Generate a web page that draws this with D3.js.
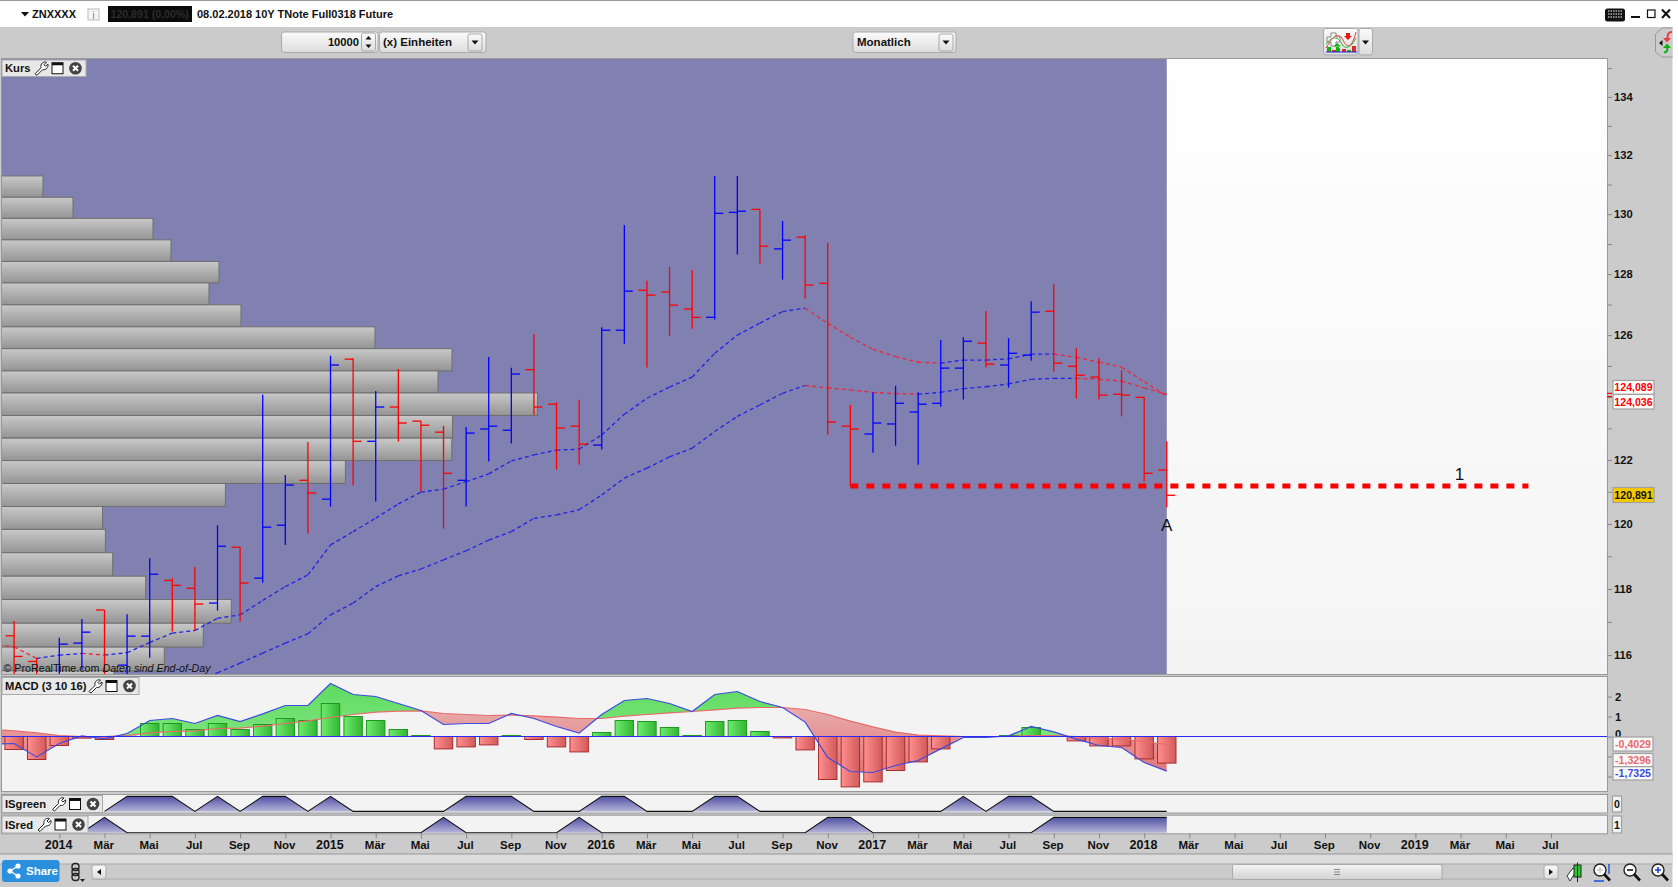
<!DOCTYPE html>
<html>
<head>
<meta charset="utf-8">
<title>ZNXXXX</title>
<style>
  html, body { margin: 0; padding: 0; background: #fff; overflow: hidden; }
  svg { display: block; font-family: "Liberation Sans", Arial, sans-serif; }
  text { fill: #111; }
  .bold { font-weight: bold; font-size: 11.2px; }
</style>
</head>
<body>
<div id="chart"></div>
<script src="https://cdn.jsdelivr.net/npm/d3@7"></script>
<script>
// monthly bars, index 0 = Jan 2014, first bar is Nov 2013
const barStart = -2;
const highs  = [117.03,115.91,116.52,117.09,117.36,117.23,118.94,118.33,118.67,119.96,119.28,124.07,121.53,122.57,125.33,125.25,124.19,124.90,123.24,123.08,123.04,125.29,124.94,126.04,123.83,123.91,126.26,129.64,127.78,128.24,128.14,131.29,131.29,130.16,129.77,129.29,129.04,123.75,124.15,124.36,124.15,125.84,125.93,126.79,125.90,127.11,127.68,125.57,125.25,124.86,123.99,122.59];
const lows   = [115.26,115.00,115.00,115.56,115.00,115.00,115.92,116.71,116.74,117.34,117.01,118.19,119.35,119.70,120.54,121.20,120.70,122.58,120.99,119.85,120.54,121.95,122.52,123.43,121.70,121.85,122.33,125.72,124.95,125.98,126.21,126.51,128.65,128.35,127.82,127.20,122.80,121.18,122.23,122.45,121.85,123.69,123.92,124.95,124.30,125.17,124.82,123.95,123.92,123.38,121.32,120.51];
const opens  = [116.58,115.81,115.10,116.36,117.36,115.70,116.57,118.26,118.02,117.57,119.28,118.33,119.96,121.36,120.77,125.22,122.59,123.68,123.23,122.88,121.36,122.98,122.94,124.88,123.77,123.07,122.47,126.16,127.47,127.41,126.85,126.58,130.06,130.16,128.84,129.23,127.70,123.07,122.82,123.14,123.52,123.80,124.93,125.74,125.03,125.35,126.78,124.99,124.64,124.09,123.99,121.68];
const closes = [115.96,115.26,116.33,116.69,115.10,116.57,118.45,118.11,117.54,119.31,118.18,119.90,121.21,120.96,125.03,122.59,123.68,123.17,123.10,121.58,122.85,123.07,124.74,123.68,123.01,122.50,126.16,127.44,127.31,126.98,126.58,130.03,130.10,128.93,129.13,127.64,123.20,122.98,123.17,123.80,123.77,124.93,125.80,125.06,125.41,126.75,125.09,124.70,124.06,124.06,121.58,120.891];

// dashed averages
const upperStart = -3;
const upperMA = [116.31,116.25,115.90,116.00,116.05,116.00,116.07,116.38,116.66,116.74,117.11,117.21,117.65,118.07,118.43,119.35,119.76,120.18,120.62,120.99,121.08,121.32,121.56,121.97,122.16,122.31,122.34,122.79,123.45,123.96,124.32,124.64,125.41,126.00,126.39,126.77,126.88,126.39,125.93,125.54,125.30,125.12,125.09,125.19,125.19,125.23,125.38,125.38,125.28,125.12,124.96,124.49,124.036];
const lowerStart = 5;
const lowerMA = [115.15,115.30,115.47,115.76,116.06,116.36,116.64,117.21,117.57,118.07,118.40,118.61,118.89,119.17,119.50,119.76,120.17,120.28,120.44,120.90,121.43,121.74,122.10,122.37,122.90,123.38,123.75,124.12,124.37,124.29,124.23,124.15,124.11,124.09,124.15,124.27,124.33,124.42,124.57,124.60,124.60,124.57,124.51,124.29,124.089];

// volume by price, bin edges from the top and the bar length of every bin
const profileEdges = [131.29,130.57,129.86,129.14,128.42,127.71,126.99,126.27,125.56,124.84,124.13,123.41,122.69,121.98,121.26,120.54,119.83,119.11,118.39,117.68,116.96,116.24,115.53,114.81];
const profileVolume = [41,71,151,169,217,207,239,373,450,436,535.5,450.5,449.8,343.4,223.4,100.5,103.4,110.7,143.7,229.3,201.3,162.3,112];

// MACD (3 10 16)
const macdStart = -3;
const macdLine   = [-0.38,-0.35,-1.02,-0.35,0.03,-0.12,0.15,0.80,0.90,0.65,1.05,0.75,1.13,1.55,1.55,2.65,2.10,2.00,1.65,1.30,0.60,0.65,0.65,1.15,0.90,0.50,0.17,1.10,1.80,1.90,1.65,1.25,2.10,2.25,1.75,1.45,0.72,-1.05,-1.75,-1.80,-1.45,-1.20,-0.62,-0.05,-0.05,0.03,0.50,0.23,-0.13,-0.45,-0.55,-1.30,-1.7325];
const signalLine = [0.35,0.28,0.18,0.05,0.00,0.00,0.05,0.18,0.25,0.28,0.40,0.42,0.52,0.65,0.78,0.95,1.10,1.22,1.27,1.28,1.15,1.10,1.05,1.07,1.03,0.97,0.90,0.90,1.02,1.10,1.18,1.25,1.33,1.42,1.45,1.45,1.35,1.10,0.77,0.48,0.22,0.07,0.03,0.00,0.00,0.00,0.05,0.05,0.00,-0.10,-0.13,-0.25,-0.4029];
const histStart = -2;
const histBars   = [-0.65,-1.15,-0.45,-0.08,-0.15,0.02,0.65,0.65,0.35,0.65,0.35,0.60,0.90,0.80,1.65,1.00,0.80,0.35,0.05,-0.62,-0.52,-0.42,0.05,-0.15,-0.52,-0.77,0.20,0.80,0.75,0.45,0.05,0.75,0.80,0.25,-0.07,-0.67,-2.15,-2.52,-2.27,-1.70,-1.27,-0.62,0.00,0.00,0.05,0.45,0.00,-0.22,-0.47,-0.47,-1.12,-1.3296];

// indicator panels, start at Mar 2014 / Feb 2014
const greenStart = 2;
const isGreen = [0,1,1,1,0,1,0,1,1,0,1,0,0,0,0,0,1,1,1,0,0,0,1,1,0,0,0,1,1,0,0,0,0,0,0,0,0,0,1,0,1,1,0,0,0,0,0,0];
const redStart = 1;
const isRed = [0,1,0,0,0,0,0,0,0,0,0,0,0,0,0,0,1,0,0,0,0,0,1,0,0,0,0,0,0,0,0,0,0,1,1,0,0,0,0,0,0,0,0,1,1,1,1,1,1];

// axis labels, one every second month from Jan 2014
const timeTicks = [0,2,4,6,8,10,12,14,16,18,20,22,24,26,28,30,32,34,36,38,40,42,44,46,48,50,52,54,56,58,60,62,64,66];
const timeLabels = ['2014','Mär','Mai','Jul','Sep','Nov','2015','Mär','Mai','Jul','Sep','Nov','2016','Mär','Mai','Jul','Sep','Nov','2017','Mär','Mai','Jul','Sep','Nov','2018','Mär','Mai','Jul','Sep','Nov','2019','Mär','Mai','Jul'];
const priceTicks = [116,117,118,119,120,121,122,123,124,125,126,127,128,129,130,131,132,133,134,135];
// 124 sits behind the value boxes, so it carries no label
const priceLabels = [116,118,120,122,126,128,130,132,134];
const macdTicks = [2,1,0,-1,-2];

const supportLevel = 121.18, supportFrom = 35, supportTo = 65;
const lastIdx = 49;

const W = 1678, H = 887;
const panelL = 2, panelR = 1607;

const svg = d3.select('#chart').append('svg').attr('width', W).attr('height', H);
const defs = svg.append('defs');

function vGrad(id, stops, units) {
  const g = defs.append('linearGradient').attr('id', id).attr('x1', 0).attr('x2', 0).attr('y1', 0).attr('y2', 1);
  if (units) g.attr('gradientUnits', 'userSpaceOnUse').attr('y1', units[0]).attr('y2', units[1]);
  stops.forEach((c, i) => g.append('stop').attr('offset', i / (stops.length - 1)).attr('stop-color', c));
}
function hGrad(id, stops) {
  const g = defs.append('linearGradient').attr('id', id).attr('x1', 0).attr('x2', 1).attr('y1', 0).attr('y2', 0);
  stops.forEach((c, i) => g.append('stop').attr('offset', i / (stops.length - 1)).attr('stop-color', c));
}
vGrad('rowGrad', ['#c9c9c9', '#949494']);
vGrad('whiteGrad', ['#ffffff', '#f4f4f4']);
hGrad('barGreen', ['#6fec6f', '#33b533']);
hGrad('barRed', ['#ff8f8f', '#d25a5a']);
vGrad('areaRed', ['#e8aaaa', '#e07070'], [710, 780]);
vGrad('areaGreen', ['#5fdc5f', '#80e480'], [685, 740]);
vGrad('isFill', ['#5050a4', '#b4b4d8']);
vGrad('btn', ['#fbfbfb', '#dcdcdc']);
vGrad('thumb', ['#f4f4f4', '#d2d2d2']);

// window background
svg.append('rect').attr('width', W).attr('height', H).attr('fill', '#fff');
svg.append('rect').attr('x', 0).attr('y', 27).attr('width', 1672.5).attr('height', H - 27).attr('fill', '#cbcbcb');
svg.append('rect').attr('x', 0).attr('y', 0).attr('width', W).attr('height', 1).attr('fill', '#999');

// scales
const x = d3.scaleLinear().domain([0, 66]).range([59.3, 1551]);
const y = d3.scaleLog().domain([116, 134]).range([655.1, 96.9]);
const yM = d3.scaleLinear().domain([0, 2]).range([736.5, 696.5]);
const yG = d3.scaleLinear().domain([0, 1]).range([811.4, 796.4]);
const yR = d3.scaleLinear().domain([0, 1]).range([832.7, 817.4]);
const volX = d3.scaleLinear().domain([0, 535.5]).range([panelL, panelL + 535.5]);

// price panel
const priceTop = 59, priceBottom = 674;
defs.append('clipPath').attr('id', 'priceClip').append('rect')
  .attr('x', panelL).attr('y', priceTop).attr('width', panelR - panelL).attr('height', priceBottom - priceTop);
svg.append('rect').attr('x', panelL).attr('y', priceTop).attr('width', panelR - panelL).attr('height', priceBottom - priceTop)
  .attr('fill', 'url(#whiteGrad)');
svg.append('rect').attr('x', panelL).attr('y', priceTop).attr('width', x(lastIdx) - panelL).attr('height', priceBottom - priceTop)
  .attr('fill', '#8181b1');

const price = svg.append('g').attr('clip-path', 'url(#priceClip)');

// volume profile
price.selectAll('.row').data(profileVolume).join('rect')
  .attr('class', 'row')
  .attr('x', panelL - 2)
  .attr('y', (d, i) => y(profileEdges[i]))
  .attr('width', d => volX(d))
  .attr('height', (d, i) => y(profileEdges[i + 1]) - y(profileEdges[i]))
  .attr('fill', 'url(#rowGrad)')
  .attr('stroke', '#6f6f6f').attr('stroke-width', 1);

// averages, blue when rising and red when falling
function drawAverage(values, start) {
  const pairs = d3.pairs(values.map((v, i) => ({ i: i + start, v })));
  price.append('g').selectAll('line').data(pairs).join('line')
    .attr('x1', d => x(d[0].i)).attr('x2', d => x(d[1].i))
    .attr('y1', d => y(d[0].v)).attr('y2', d => y(d[1].v))
    .attr('stroke', d => d[1].v >= d[0].v ? '#2222e6' : '#e82838')
    .attr('stroke-width', 1.3)
    .attr('stroke-dasharray', '4 3');
}
drawAverage(upperMA, upperStart);
drawAverage(lowerMA, lowerStart);

// OHLC bars
const bars = highs.map((h, i) => ({ i: i + barStart, h, l: lows[i], o: opens[i], c: closes[i] }));
const barG = price.append('g').selectAll('g').data(bars).join('g')
  .attr('stroke', d => d.c >= d.o ? '#0000ff' : '#ff0000')
  .attr('stroke-width', 1.3);
barG.append('line').attr('x1', d => x(d.i)).attr('x2', d => x(d.i)).attr('y1', d => y(d.h)).attr('y2', d => y(d.l));
barG.append('line').attr('x1', d => x(d.i) - 8.5).attr('x2', d => x(d.i)).attr('y1', d => y(d.o)).attr('y2', d => y(d.o));
barG.append('line').attr('x1', d => x(d.i)).attr('x2', d => x(d.i) + 8.5).attr('y1', d => y(d.c)).attr('y2', d => y(d.c));

// support line and the wave labels
price.append('line')
  .attr('x1', x(supportFrom)).attr('x2', x(supportTo))
  .attr('y1', y(supportLevel)).attr('y2', y(supportLevel))
  .attr('stroke', '#ff0000').attr('stroke-width', 5).attr('stroke-dasharray', '8 8');
price.append('text').attr('x', x(61.95)).attr('y', y(supportLevel) - 6).attr('text-anchor', 'middle').style('font-size', '17px').text('1');
price.append('text').attr('x', x(lastIdx)).attr('y', y(supportLevel) + 45).attr('text-anchor', 'middle').style('font-size', '17px').text('A');

const stamp = price.append('text').attr('x', 3.5).attr('y', 672).style('font-size', '10.7px');
stamp.append('tspan').text('© ProRealTime.com  ');
stamp.append('tspan').style('font-style', 'italic').text('Daten sind End-of-Day');

svg.append('rect').attr('x', panelL - 0.5).attr('y', priceTop - 0.5).attr('width', panelR - panelL + 1).attr('height', priceBottom - priceTop + 1)
  .attr('fill', 'none').attr('stroke', '#999');

// price axis
const priceAxis = svg.append('g').attr('transform', `translate(${panelR},0)`)
  .call(d3.axisRight(y).tickValues(priceTicks).tickSize(5).tickPadding(2)
    .tickFormat(d => priceLabels.includes(d) ? d : ''));
priceAxis.select('.domain').remove();
priceAxis.selectAll('line').attr('stroke', '#888');
priceAxis.selectAll('text').attr('class', 'bold');

// MACD panel
const macdTop = 677, macdBottom = 791;
defs.append('clipPath').attr('id', 'macdClip').append('rect')
  .attr('x', panelL).attr('y', macdTop).attr('width', panelR - panelL).attr('height', macdBottom - macdTop);
svg.append('rect').attr('x', panelL - 0.5).attr('y', macdTop - 0.5).attr('width', panelR - panelL + 1).attr('height', macdBottom - macdTop + 1)
  .attr('fill', '#f3f3f3').attr('stroke', '#999');
const macd = svg.append('g').attr('clip-path', 'url(#macdClip)');

const macdPts = macdLine.map((v, i) => ({ i: i + macdStart, m: v, s: signalLine[i] }));
const clipArea = (id, edge) => defs.append('clipPath').attr('id', id).append('path').attr('d',
  d3.area().x(d => x(d.i)).y0(edge).y1(d => yM(d.m))(macdPts));
clipArea('macdAbove', macdTop - 5);
clipArea('macdBelow', macdBottom + 5);
// difference chart: each fill is cut by the macd line
macd.append('path').attr('clip-path', 'url(#macdAbove)').attr('fill', 'url(#areaRed)')
  .attr('d', d3.area().x(d => x(d.i)).y0(macdBottom + 5).y1(d => yM(d.s))(macdPts));
macd.append('path').attr('clip-path', 'url(#macdBelow)').attr('fill', 'url(#areaGreen)')
  .attr('d', d3.area().x(d => x(d.i)).y0(macdTop - 5).y1(d => yM(d.s))(macdPts));

const histW = 18.4;
macd.selectAll('.hist').data(histBars).join('rect')
  .attr('class', 'hist')
  .attr('x', (d, i) => x(i + histStart) - histW / 2)
  .attr('width', histW)
  .attr('y', d => d >= 0 ? yM(d) : yM(0))
  .attr('height', d => Math.abs(yM(d) - yM(0)))
  .attr('fill', d => d >= 0 ? 'url(#barGreen)' : 'url(#barRed)')
  .attr('stroke', d => d >= 0 ? '#1d9a1d' : '#a82c2c')
  .attr('stroke-width', 1);

const mLine = key => d3.line().x(d => x(d.i)).y(d => yM(d[key]));
macd.append('path').attr('d', mLine('s')(macdPts)).attr('fill', 'none').attr('stroke', '#e86a6a').attr('stroke-width', 1.1);
macd.append('path').attr('d', mLine('m')(macdPts)).attr('fill', 'none').attr('stroke', '#3c4be0').attr('stroke-width', 1.2);
macd.append('line').attr('x1', panelL).attr('x2', panelR).attr('y1', yM(0)).attr('y2', yM(0)).attr('stroke', '#2a2af0').attr('stroke-width', 1.2);

const macdAxis = svg.append('g').attr('transform', `translate(${panelR},0)`)
  .call(d3.axisRight(yM).tickValues(macdTicks).tickSize(5).tickPadding(3)
    .tickFormat(d => d >= 0 ? d : ''));
macdAxis.select('.domain').remove();
macdAxis.selectAll('line').attr('stroke', '#888');
macdAxis.selectAll('text').attr('class', 'bold').attr('dy', d => d === 0 ? '0.1em' : '0.32em');

// ISgreen / ISred panels
function isPanel(values, start, scale, top, bottom, clipId) {
  defs.append('clipPath').attr('id', clipId).append('rect')
    .attr('x', panelL).attr('y', top).attr('width', panelR - panelL).attr('height', bottom - top);
  svg.append('rect').attr('x', panelL - 0.5).attr('y', top - 0.5).attr('width', panelR - panelL + 1).attr('height', bottom - top + 1)
    .attr('fill', '#f3f3f3').attr('stroke', '#999');
  const pts = values.map((v, i) => ({ i: i + start, v }));
  const g = svg.append('g').attr('clip-path', `url(#${clipId})`);
  g.append('path').attr('fill', 'url(#isFill)')
    .attr('d', d3.area().x(d => x(d.i)).y0(scale(0)).y1(d => scale(d.v))(pts));
  g.append('path').attr('fill', 'none').attr('stroke', '#111').attr('stroke-width', 1.1)
    .attr('d', d3.line().x(d => x(d.i)).y(d => scale(d.v))(pts));
}
isPanel(isGreen, greenStart, yG, 795, 812.5, 'greenClip');
isPanel(isRed, redStart, yR, 815.7, 833.3, 'redClip');

// time axis
const timeAxis = svg.append('g').attr('transform', 'translate(0,833.5)')
  .call(d3.axisBottom(x).tickValues(timeTicks).tickSize(5).tickPadding(2)
    .tickFormat((d, i) => timeLabels[i]));
timeAxis.select('.domain').remove();
timeAxis.selectAll('line').attr('stroke', '#888');
timeAxis.selectAll('text').attr('class', 'bold').attr('dx', -1.2).style('font-size', (d, i) => /^\d/.test(timeLabels[i]) ? '12.5px' : '11.5px');
svg.append('rect').attr('x', 0).attr('y', 854).attr('width', 1672.5).attr('height', 10).attr('fill', '#dcdcdc');
svg.append('line').attr('x1', 0).attr('x2', 1672.5).attr('y1', 854).attr('y2', 854).attr('stroke', '#999');
svg.append('line').attr('x1', 0).attr('x2', 1672.5).attr('y1', 864).attr('y2', 864).attr('stroke', '#aaa');
svg.append('line').attr('x1', 92).attr('x2', 1559).attr('y1', 879).attr('y2', 879).attr('stroke', '#aaa');

// value boxes on the right
function valueBox(bx, by, bw, bh, label, fill, color, stroke) {
  svg.append('rect').attr('x', bx).attr('y', by).attr('width', bw).attr('height', bh).attr('fill', fill).attr('stroke', stroke || '#a0a0a0').attr('stroke-width', 1.2);
  svg.append('text').attr('class', 'bold').attr('x', bx + bw / 2).attr('y', by + bh / 2 + 4).attr('text-anchor', 'middle').style('font-size', '10.6px').style('fill', color).text(label);
}
const fmt = v => d3.format('.3f')(v).replace('.', ',');
const fmt4 = v => d3.format('.4f')(v).replace('.', ',').replace('−', '-');
svg.append('rect').attr('x', panelR).attr('y', y(lowerMA[lowerMA.length - 1]) - 1.5).attr('width', 5).attr('height', 1.2).attr('fill', '#f00');
svg.append('rect').attr('x', panelR).attr('y', y(upperMA[upperMA.length - 1])).attr('width', 5).attr('height', 1.2).attr('fill', '#f00');
valueBox(1613, 380.5, 41, 13.8, fmt(lowerMA[lowerMA.length - 1]), '#fff', '#f00');
valueBox(1613, 394.5, 41, 14.5, fmt(upperMA[upperMA.length - 1]), '#fff', '#f00');
valueBox(1613, 487.5, 41, 15, fmt(closes[closes.length - 1]), '#f6c800', '#111');
valueBox(1613, 737, 40, 14, fmt4(signalLine[signalLine.length - 1]), '#f8f8f8', '#e86a6a');
valueBox(1613, 753.5, 40, 13.2, fmt4(histBars[histBars.length - 1]), '#f8f8f8', '#e86a6a');
valueBox(1613, 766.7, 40, 13.3, fmt4(macdLine[macdLine.length - 1]), '#f8f8f8', '#3c4be0');
valueBox(1612.5, 796, 9, 16, isGreen[isGreen.length - 1], '#f3f3f3', '#111');
valueBox(1612.5, 816, 9, 17, isRed[isRed.length - 1], '#f3f3f3', '#111');

// panel tabs
function panelTab(tx, ty, w, h, label, iconX) {
  const g = svg.append('g');
  g.append('rect').attr('x', tx).attr('y', ty).attr('width', w).attr('height', h).attr('fill', '#e8e8e8').attr('stroke', '#aaa');
  g.append('text').attr('class', 'bold').attr('x', tx + 3).attr('y', ty + h / 2 + 4).text(label);
  const cy = ty + h / 2;
  // wrench
  g.append('path').attr('fill', '#fff').attr('stroke', '#222').attr('stroke-width', 1)
    .attr('d', `M${iconX} ${cy + 5.5} L${iconX + 6} ${cy - 0.5} C${iconX + 5} ${cy - 4.5} ${iconX + 8.5} ${cy - 7} ${iconX + 11.5} ${cy - 6} L${iconX + 9} ${cy - 3.5} L${iconX + 10.5} ${cy - 2} L${iconX + 13} ${cy - 4} C${iconX + 13.5} ${cy - 1} ${iconX + 11} ${cy + 2} ${iconX + 7.5} ${cy + 1.5} L${iconX + 2} ${cy + 7} Z`);
  // window
  g.append('rect').attr('x', iconX + 17).attr('y', cy - 5.5).attr('width', 11).attr('height', 11).attr('fill', '#fff').attr('stroke', '#111');
  g.append('rect').attr('x', iconX + 17).attr('y', cy - 5.5).attr('width', 11).attr('height', 2.5).attr('fill', '#111');
  // close
  g.append('circle').attr('cx', iconX + 40.5).attr('cy', cy).attr('r', 6.3).attr('fill', '#444');
  g.append('path').attr('stroke', '#fff').attr('stroke-width', 2).attr('d', `M${iconX + 38} ${cy - 2.5} L${iconX + 43} ${cy + 2.5} M${iconX + 43} ${cy - 2.5} L${iconX + 38} ${cy + 2.5}`);
}
panelTab(2, 60, 84, 16.5, 'Kurs', 35);
panelTab(2, 677.5, 137, 17, 'MACD (3 10 16)', 89);
panelTab(2, 795.5, 100.5, 17, 'ISgreen', 52.5);
panelTab(2, 816, 86, 17, 'ISred', 38);

// title bar
svg.append('path').attr('fill', '#111').attr('d', 'M21 12 L29 12 L25 16.5 Z');
svg.append('text').attr('class', 'bold').attr('x', 32).attr('y', 18).style('font-size', '11px').text('ZNXXXX');
svg.append('rect').attr('x', 88).attr('y', 9).attr('width', 11).attr('height', 11).attr('fill', '#f6f6f6').attr('stroke', '#bbb');
svg.append('text').attr('x', 93.5).attr('y', 18.5).attr('text-anchor', 'middle').style('font-size', '11px').style('fill', '#789').text('i');
svg.append('rect').attr('x', 108).attr('y', 6).attr('width', 84).attr('height', 16).attr('fill', '#0a0a0a');
svg.append('text').attr('class', 'bold').attr('x', 110.5).attr('y', 18).style('font-size', '10.6px').style('fill', '#2c2c2c').text('120,891 (0,00%)');
svg.append('text').attr('class', 'bold').attr('x', 197).attr('y', 18).style('font-size', '11px').text('08.02.2018 10Y TNote Full0318 Future');

// window buttons
svg.append('rect').attr('x', 1605).attr('y', 8.5).attr('width', 20).attr('height', 13).attr('rx', 2.5).attr('fill', '#111');
[11, 14, 17].forEach(ky => {
  svg.append('line').attr('x1', 1608).attr('x2', 1622).attr('y1', ky).attr('y2', ky).attr('stroke', '#fff').attr('stroke-dasharray', '1.5 1').attr('stroke-width', 1.2);
});
svg.append('rect').attr('x', 1631).attr('y', 16).attr('width', 9).attr('height', 2).attr('fill', '#111');
svg.append('rect').attr('x', 1647.5).attr('y', 10).attr('width', 7.5).attr('height', 7.5).attr('fill', 'none').attr('stroke', '#111').attr('stroke-width', 1.2);
svg.append('path').attr('stroke', '#111').attr('stroke-width', 2).attr('d', 'M1662 9.5 L1670 18 M1670 9.5 L1662 18');

// toolbar controls
function button(bx, by, bw, bh, r) {
  return svg.append('rect').attr('x', bx).attr('y', by).attr('width', bw).attr('height', bh).attr('rx', r || 2.5).attr('fill', 'url(#btn)').attr('stroke', '#aaa');
}
function arrowDown(cx, cy) {
  svg.append('path').attr('fill', '#111').attr('d', `M${cx - 3.5} ${cy - 2} L${cx + 3.5} ${cy - 2} L${cx} ${cy + 2} Z`);
}
button(281.5, 32, 96.5, 20.5);
svg.append('text').attr('class', 'bold').attr('x', 359).attr('y', 46).attr('text-anchor', 'end').text('10000');
button(361.5, 33, 14, 18, 2);
svg.append('path').attr('fill', '#111').attr('d', 'M368.5 36 L371.5 39.5 L365.5 39.5 Z M368.5 48 L371.5 44.5 L365.5 44.5 Z');
button(379.5, 32, 106.5, 20.5);
svg.append('text').attr('class', 'bold').attr('x', 383).attr('y', 46).style('font-size', '11.5px').text('(x) Einheiten');
button(468, 34, 14, 17, 2);
arrowDown(475, 42.5);
button(853, 32, 103, 20.5);
svg.append('text').attr('class', 'bold').attr('x', 857).attr('y', 46).style('font-size', '11.5px').text('Monatlich');
button(939, 34, 14, 17, 2);
arrowDown(946, 42.5);

// chart type button
button(1323.5, 28.5, 34.5, 26.5, 2.5);
button(1359, 28.5, 13.5, 26.5, 2.5);
arrowDown(1365.5, 42.5);
svg.append('path').attr('fill', '#fff').attr('stroke', '#888').attr('d', 'M1331 33 L1336 33 L1336 37 L1340 37 L1340 42 L1336 42 L1336 46 L1331 46 L1331 42 L1327 42 L1327 37 L1331 37 Z');
svg.append('path').attr('fill', 'none').attr('stroke', '#2ab02a').attr('stroke-width', 1).attr('d', 'M1326 44 C1332 36 1338 36 1342 44 C1345 50 1351 48 1356 38');
svg.append('path').attr('fill', 'none').attr('stroke', '#d84040').attr('stroke-width', 1).attr('d', 'M1326 48 C1332 38 1336 32 1342 38 C1347 50 1352 48 1356 32');
svg.append('path').attr('fill', '#e01818').attr('d', 'M1346 33 L1350 33 L1350 36 L1352 36 L1348 40 L1344 36 L1346 36 Z');
svg.append('path').attr('fill', '#10b010').attr('d', 'M1337 43 L1333.5 46.5 L1341 46.5 Z M1336 46 L1339 46 L1339 49 L1336 49 Z');
[[1327, 5], [1332, 2], [1336, 4], [1342, 3], [1347, 2], [1352, 6]].forEach((b, i) => {
  svg.append('rect').attr('x', b[0]).attr('y', 52 - b[1]).attr('width', 4).attr('height', b[1]).attr('fill', i % 2 ? '#e02828' : '#10b010');
});
svg.append('line').attr('x1', 1326).attr('x2', 1357).attr('y1', 52).attr('y2', 52).attr('stroke', '#2222e0');

// side arrows
svg.append('path').attr('fill', '#cbcbcb').attr('stroke', '#999').attr('d', 'M1672.5 28 L1662 28 L1655.5 34 L1655.5 52 L1662 57 L1672.5 57');
svg.append('path').attr('fill', '#111').attr('d', 'M1659 43 L1662.5 40 L1662.5 46 Z');
svg.append('path').attr('fill', 'none').attr('stroke', '#e84040').attr('stroke-width', 2).attr('d', 'M1672 32 C1667 32 1668 36 1667 40');
svg.append('path').attr('fill', '#e84040').attr('d', 'M1663 38 L1671 38 L1667 42.5 Z');
svg.append('path').attr('fill', '#10b010').attr('d', 'M1663 48 L1671 48 L1667 43.5 Z');
svg.append('path').attr('fill', 'none').attr('stroke', '#10b010').attr('stroke-width', 2).attr('d', 'M1667 47 C1668 51 1667 52 1664 52.5');

// bottom bar
svg.append('rect').attr('x', 2).attr('y', 860).attr('width', 57.5).attr('height', 22).attr('rx', 3).attr('fill', '#2a8fdc');
svg.append('text').attr('x', 26).attr('y', 875).style('font-size', '11.5px').style('font-weight', 'bold').style('fill', '#fff').text('Share');
[[10, 871], [18, 866], [18, 876]].forEach(c => {
  svg.append('circle').attr('cx', c[0]).attr('cy', c[1]).attr('r', 2.6).attr('fill', '#fff');
});
svg.append('path').attr('stroke', '#fff').attr('stroke-width', 1.2).attr('d', 'M10 871 L18 866 M10 871 L18 876');
// chain icon
[[72, 863.5], [72, 868.5], [72, 873.5]].forEach(c => {
  svg.append('rect').attr('x', c[0]).attr('y', c[1]).attr('width', 7).attr('height', 7).attr('rx', 3).attr('fill', 'none').attr('stroke', '#222').attr('stroke-width', 1.3);
});
svg.append('path').attr('fill', '#222').attr('d', 'M80 879 L85 879 L82.5 882 Z');
button(92, 865, 14, 14, 2);
svg.append('path').attr('fill', '#111').attr('d', 'M101 869 L101 875 L97 872 Z');
button(1232.5, 864.5, 209.5, 15, 2).attr('fill', 'url(#thumb)');
svg.append('path').attr('stroke', '#888').attr('d', 'M1334 869.5 L1340 869.5 M1334 872 L1340 872 M1334 874.5 L1340 874.5');
button(1544, 865, 14, 14, 2);
svg.append('path').attr('fill', '#111').attr('d', 'M1549 869 L1549 875 L1553 872 Z');

// tool icons
function magnifier(cx, cy, inner) {
  svg.append('circle').attr('cx', cx).attr('cy', cy).attr('r', 6).attr('fill', '#fff').attr('stroke', '#222').attr('stroke-width', 1.4);
  svg.append('line').attr('x1', cx + 4).attr('y1', cy + 4).attr('x2', cx + 10).attr('y2', cy + 10.5).attr('stroke', '#111').attr('stroke-width', 2.6);
  svg.append('path').attr('stroke', inner).attr('stroke-width', 1.6).attr('d', inner === '#111'
    ? `M${cx - 3} ${cy} L${cx + 3} ${cy}`
    : `M${cx - 3} ${cy} L${cx + 3} ${cy} M${cx} ${cy - 3} L${cx} ${cy + 3}`);
}
svg.append('path').attr('fill', '#fff').attr('stroke', '#333').attr('d', 'M1567 876 L1573 868 L1576 871 L1570 881 Z');
svg.append('rect').attr('x', 1574).attr('y', 865).attr('width', 7).attr('height', 12).attr('fill', '#33c433').attr('stroke', '#222');
svg.append('line').attr('x1', 1577.5).attr('x2', 1577.5).attr('y1', 862.5).attr('y2', 882).attr('stroke', '#222');
magnifier(1600, 870, '#ccc');
svg.append('path').attr('stroke', '#1a50e0').attr('stroke-width', 1.4).attr('d', 'M1609 864 L1609 874 M1594 881 L1604 881');
magnifier(1630, 870, '#111');
magnifier(1658, 870, '#1a3ce0');

</script>
</body>
</html>
